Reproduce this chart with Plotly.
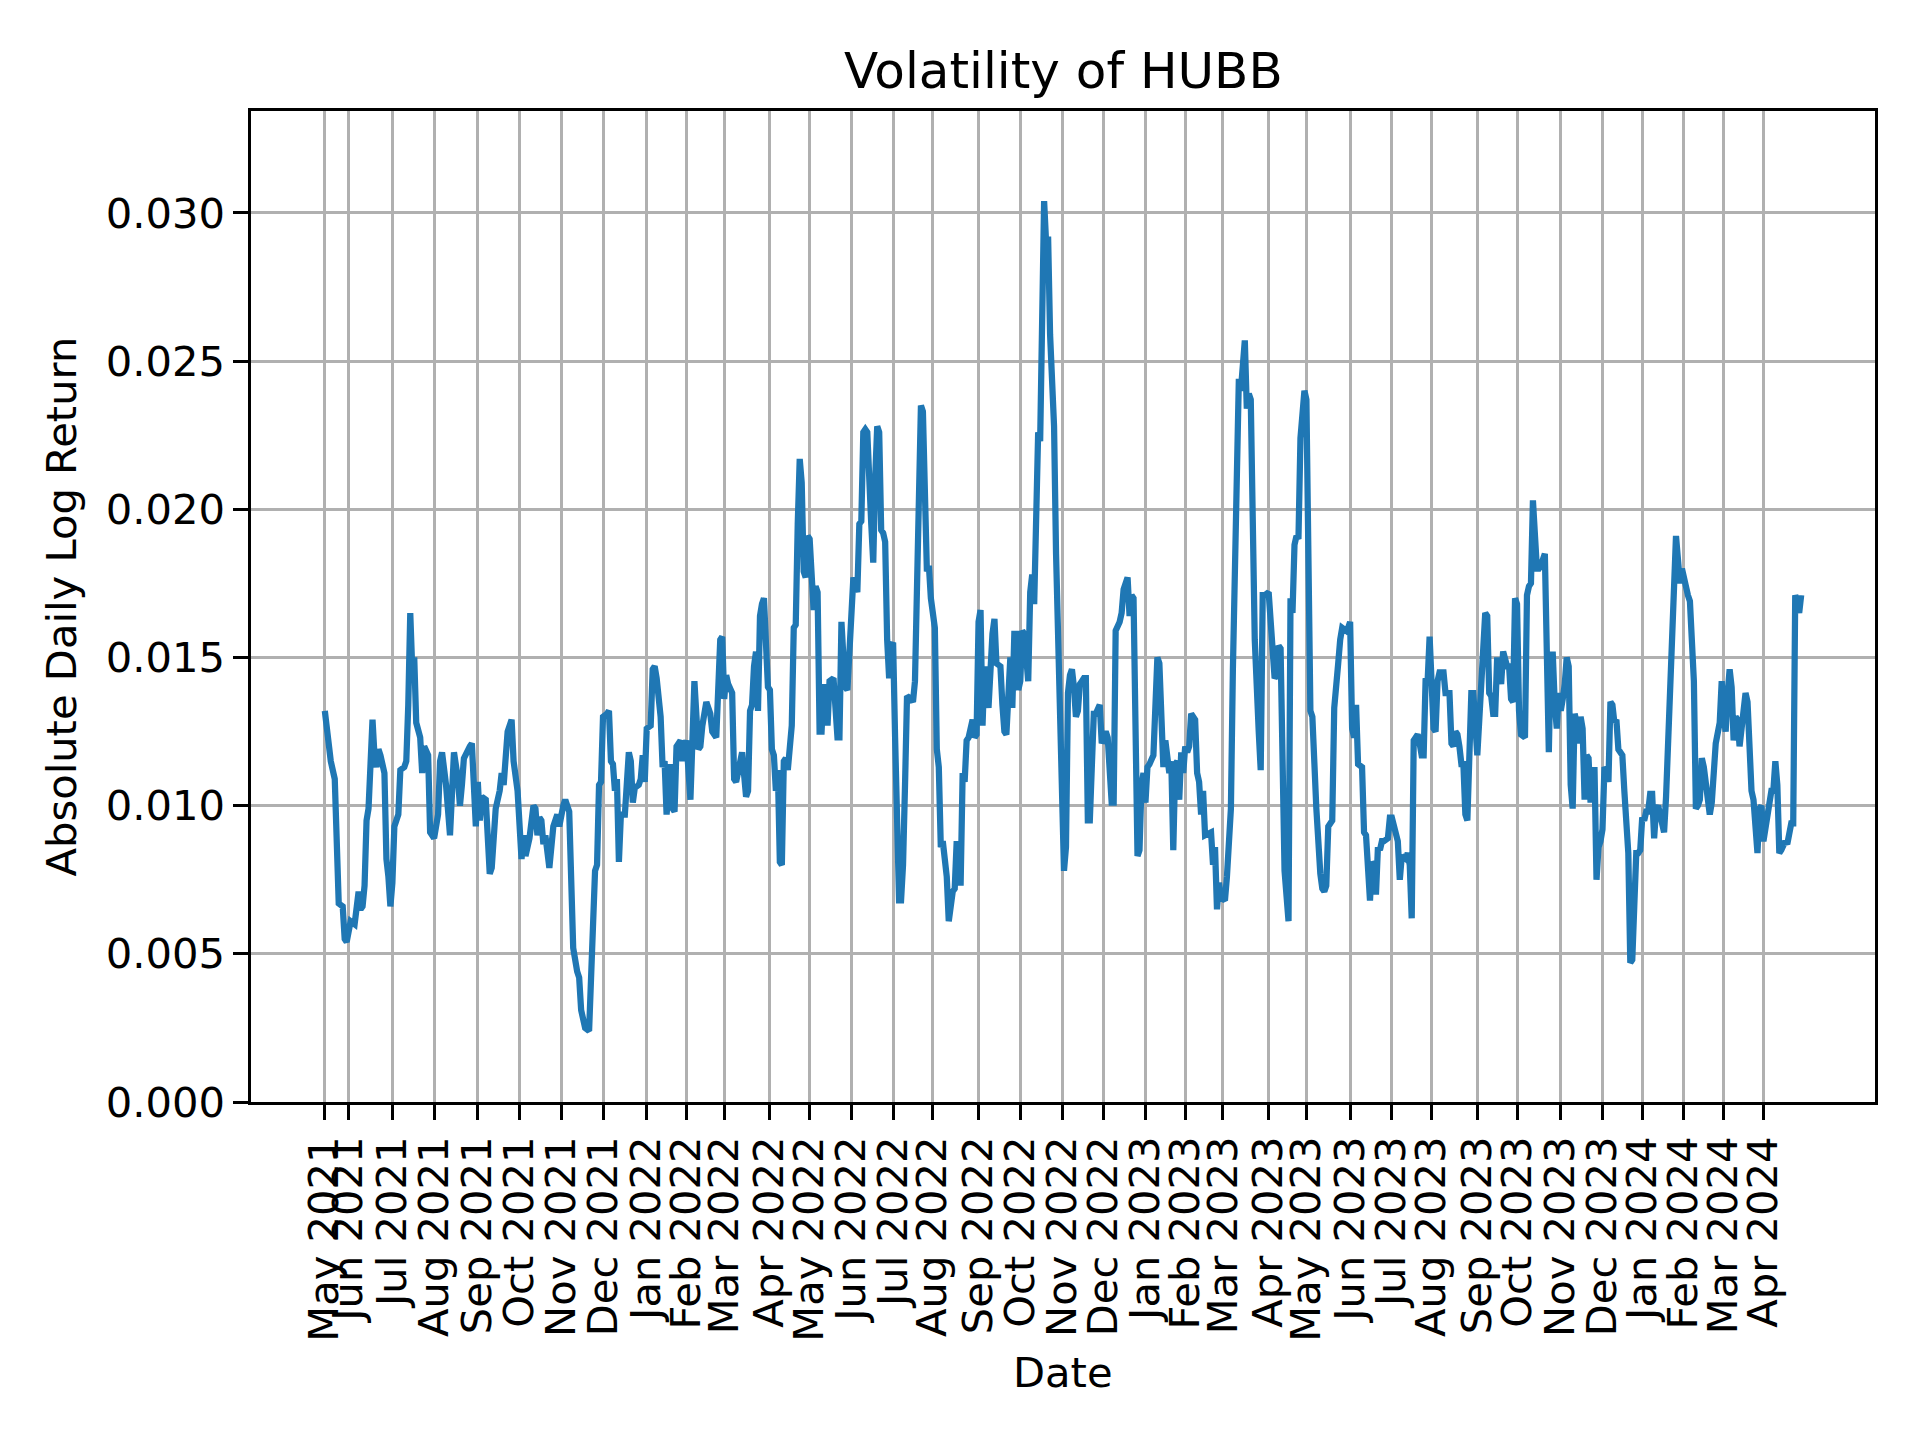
import plotly.graph_objects as go

# x = trading-session number counted from the first session shown (13 May 2021)
session = [
    0, 2, 3, 5, 6, 7, 9, 10, 11, 12, 13, 15, 16, 17, 18, 19, 20, 21, 22, 23, 24, 25, 26, 27, 28, 30,
    31, 32, 33, 34, 35, 37, 38, 40, 41, 42, 43, 44, 45, 46, 48, 49, 50, 52, 53, 54, 55, 57, 58, 59,
    61, 63, 64, 65, 67, 68, 69, 70,
    73, 74, 76, 77, 78, 79, 81, 82, 83, 84, 85, 86, 88, 89, 90, 91, 92, 94, 95, 97, 98, 99, 100, 101,
    103, 104, 105, 106, 107, 108, 109, 110, 111, 113, 114, 115, 117, 118, 120, 121, 123, 124, 125,
    127, 128, 129, 131, 133, 134, 135, 136, 137, 138, 139, 140, 142, 143, 144, 145, 146,
    147, 148, 149, 151, 152, 153, 154, 155, 156, 158, 159, 160, 161, 162, 164, 165, 166, 167, 169,
    170, 171, 172, 174, 175, 176, 177, 179, 180, 181, 182, 184, 185, 186, 188, 189, 190, 191, 192,
    194, 195, 197, 198, 199, 200, 201, 202, 203, 205, 206, 207, 209, 210, 212, 213, 214, 215, 216,
    217, 218, 219, 220, 221,
    223, 224, 225, 226, 227, 228, 229, 230, 231, 232, 233, 234, 235, 236, 237, 238, 239, 240, 241,
    242, 243, 244, 245, 246, 247, 248, 249, 250, 251, 252, 253, 254, 256, 257, 258, 259, 260, 261,
    262, 263, 264, 265, 266, 268, 269, 270, 271, 272, 273, 275, 276, 277, 278, 279, 280, 281, 282,
    283, 284, 285, 286, 287, 288, 289, 290, 291, 292, 293, 295,
    296, 297, 298, 299, 300, 301, 302, 303, 304, 305, 307, 308, 309, 310, 311, 313, 314, 316, 317,
    318, 319, 320, 321, 322, 323, 324, 326, 327, 328, 329, 330, 331, 332, 333, 334, 336, 337, 338,
    340, 341, 342, 343, 344, 345, 346, 347, 348, 349, 350, 351, 352, 353, 354, 355, 356, 357, 358,
    359, 360, 361, 362, 363, 364, 365, 367, 368, 369,
    370, 372, 373, 374, 375, 376, 377, 378, 379, 380, 381, 382, 383, 384, 385, 386, 387, 388, 389,
    390, 391, 393, 394, 395, 396, 397, 398, 400, 401, 402, 403, 404, 405, 406, 407, 408, 409, 410,
    411, 412, 413, 414, 415, 417, 418, 419, 420, 421, 422, 423, 424, 425, 426, 427, 428, 429, 430,
    431, 432, 433, 434, 435, 436, 438, 439, 440, 441, 442, 443,
    446, 447, 448, 449, 450, 451, 453, 454, 455, 456, 457, 459, 460, 461, 462, 463, 464, 465, 466,
    467, 468, 470, 471, 472, 473, 475, 476, 477, 478, 479, 480, 481, 482, 483, 485, 486, 487, 488,
    489, 490, 491, 492, 493, 494, 496, 497, 498, 499, 501, 502, 503, 504, 505, 507, 508, 509, 510,
    511, 512, 514, 515, 516, 517, 518,
    519, 520, 522, 523, 524, 526, 527, 528, 529, 530, 531, 532, 533, 535, 536, 537, 539, 540, 541,
    542, 544, 545, 546, 547, 548, 550, 551, 552, 553, 554, 555, 556, 558, 559, 560, 561, 563, 564,
    565, 566, 567, 568, 569, 570, 571, 572, 573, 574, 575, 576, 577, 578, 579, 580, 581, 582, 583,
    584, 585, 586, 587, 588, 589, 590, 592,
    593, 595, 596, 597, 598, 599, 600, 601, 602, 604, 605, 606, 607, 608, 609, 610, 611, 612, 614,
    615, 616, 617, 618, 619, 620, 621, 622, 623, 624, 625, 626, 627, 628, 629, 630, 631, 632, 633,
    634, 635, 636, 637, 638, 639, 640, 641, 642, 643, 644, 645, 646, 647, 648, 649, 650, 651, 652,
    653, 654, 655, 656, 657, 658, 659, 660, 661, 662, 663, 664, 665, 666, 667,
    668, 669, 670, 671, 673, 674, 675, 676, 677, 678, 679, 680, 681, 682, 683, 684, 685, 686, 687,
    688, 689, 690, 691, 692, 693, 694, 695, 696, 697, 698, 699, 700, 702, 703, 704, 705, 706, 707,
    708, 709, 710, 711, 712, 713, 714, 715, 716, 717, 718, 719, 720, 721, 722, 723, 724, 725, 726,
    727, 728, 729, 730, 731, 732, 733, 735, 736, 737, 738, 739, 740, 741, 742, 743,
]

abs_log_return = [
    0.0132, 0.0118, 0.0115, 0.0109, 0.0082, 0.0067, 0.0066, 0.0055, 0.0054, 0.0057, 0.0061, 0.0060, 0.0069, 0.0071, 0.0065, 0.0066, 0.0073, 0.0095, 0.0099, 0.0117, 0.0129, 0.0117, 0.0113, 0.0119, 0.0117, 0.0111,
    0.0082, 0.0076, 0.0066, 0.0074, 0.0093, 0.0097, 0.0112, 0.0113, 0.0115, 0.0134, 0.0165, 0.0146, 0.0150, 0.0128, 0.0123, 0.0111, 0.0120, 0.0117, 0.0091, 0.0090, 0.0089, 0.0097, 0.0115, 0.0118,
    0.0107, 0.0090, 0.0101, 0.0118, 0.0109, 0.0100, 0.0107, 0.0116,
    0.0120, 0.0121, 0.0093, 0.0108, 0.0095, 0.0103, 0.0102, 0.0088, 0.0077, 0.0079, 0.0093, 0.0099, 0.0105, 0.0111, 0.0107, 0.0115, 0.0125, 0.0129, 0.0115, 0.0105, 0.0095, 0.0082, 0.0090, 0.0083,
    0.0089, 0.0097, 0.0100, 0.0099, 0.0090, 0.0096, 0.0095, 0.0087, 0.0090, 0.0079, 0.0087, 0.0093, 0.0097, 0.0093, 0.0100, 0.0102, 0.0098, 0.0062, 0.0052,
    0.0044, 0.0042, 0.0031, 0.0025, 0.0024, 0.0045, 0.0050, 0.0078, 0.0080, 0.0107, 0.0108, 0.0130, 0.0131, 0.0132, 0.0115, 0.0114, 0.0105,
    0.0109, 0.0081, 0.0097, 0.0097, 0.0106, 0.0118, 0.0115, 0.0101, 0.0106, 0.0107, 0.0109, 0.0117, 0.0108, 0.0126, 0.0127, 0.0146, 0.0147, 0.0143, 0.0130,
    0.0113, 0.0115, 0.0097, 0.0114, 0.0099, 0.0098, 0.0120, 0.0122, 0.0115, 0.0120, 0.0122, 0.0102, 0.0117, 0.0142, 0.0119, 0.0120, 0.0127, 0.0131, 0.0135,
    0.0131, 0.0125, 0.0123, 0.0138, 0.0156, 0.0157, 0.0136, 0.0144, 0.0141, 0.0138, 0.0109, 0.0108, 0.0117, 0.0118, 0.0103, 0.0105, 0.0132, 0.0134, 0.0147,
    0.0152, 0.0132, 0.0164, 0.0168, 0.0170,
    0.0140, 0.0139, 0.0119, 0.0117, 0.0105, 0.0112, 0.0081, 0.0080, 0.0115, 0.0116, 0.0112, 0.0123, 0.0127, 0.0160, 0.0161, 0.0195, 0.0217, 0.0209, 0.0179,
    0.0177, 0.0191, 0.0190, 0.0177, 0.0166, 0.0174, 0.0172, 0.0125, 0.0125, 0.0140, 0.0140, 0.0127, 0.0142, 0.0143, 0.0134, 0.0123, 0.0123, 0.0162, 0.0150,
    0.0140, 0.0139, 0.0152, 0.0174, 0.0177, 0.0172, 0.0195, 0.0196, 0.0226, 0.0227, 0.0226, 0.0195, 0.0182, 0.0211, 0.0228, 0.0226, 0.0193, 0.0192, 0.0189,
    0.0156, 0.0143, 0.0154, 0.0155, 0.0123, 0.0099, 0.0068, 0.0068, 0.0080, 0.0107, 0.0137, 0.0136,
    0.0135, 0.0142, 0.0183, 0.0201, 0.0235, 0.0233, 0.0209, 0.0179, 0.0181, 0.0170, 0.0160, 0.0119, 0.0113, 0.0086, 0.0088, 0.0076, 0.0061, 0.0071, 0.0072,
    0.0088, 0.0074, 0.0074, 0.0111, 0.0108, 0.0122, 0.0123, 0.0129, 0.0123, 0.0124, 0.0162, 0.0166, 0.0127, 0.0147, 0.0139, 0.0133, 0.0158, 0.0163, 0.0148,
    0.0147, 0.0134, 0.0125, 0.0124, 0.0142, 0.0150, 0.0133, 0.0158, 0.0158, 0.0139, 0.0142, 0.0159, 0.0158, 0.0146, 0.0142, 0.0172, 0.0178, 0.0168, 0.0199,
    0.0226, 0.0223, 0.0263, 0.0304, 0.0290, 0.0292, 0.0259, 0.0228, 0.0185, 0.0158,
    0.0115, 0.0078, 0.0086, 0.0138, 0.0144, 0.0146, 0.0140, 0.0130, 0.0132, 0.0141, 0.0142, 0.0143, 0.0143, 0.0095, 0.0095, 0.0115, 0.0131, 0.0131, 0.0133,
    0.0134, 0.0121, 0.0125, 0.0123, 0.0105, 0.0101, 0.0101, 0.0159, 0.0162, 0.0165, 0.0173, 0.0176, 0.0177, 0.0164, 0.0171, 0.0170, 0.0130, 0.0083, 0.0085,
    0.0107, 0.0111, 0.0101, 0.0113, 0.0114, 0.0117, 0.0138, 0.0150, 0.0148, 0.0130, 0.0113, 0.0122, 0.0118, 0.0111, 0.0115, 0.0085, 0.0114, 0.0115, 0.0102,
    0.0118, 0.0111, 0.0120, 0.0118, 0.0120, 0.0131, 0.0129, 0.0111, 0.0108, 0.0097, 0.0105, 0.0090,
    0.0091, 0.0080, 0.0086, 0.0065, 0.0074, 0.0069, 0.0068, 0.0076, 0.0091, 0.0099, 0.0146, 0.0201, 0.0244, 0.0240, 0.0254, 0.0257, 0.0234, 0.0239, 0.0237,
    0.0203, 0.0156, 0.0125, 0.0112, 0.0171, 0.0171, 0.0172, 0.0160, 0.0156, 0.0143, 0.0144, 0.0154, 0.0153, 0.0115, 0.0078, 0.0061, 0.0170, 0.0165, 0.0188,
    0.0191, 0.0190, 0.0224, 0.0236, 0.0240, 0.0237, 0.0132, 0.0130, 0.0109, 0.0099, 0.0077, 0.0072, 0.0071, 0.0073, 0.0093, 0.0095, 0.0133, 0.0144, 0.0148,
    0.0156, 0.0160, 0.0159, 0.0160, 0.0162, 0.0126, 0.0123,
    0.0134, 0.0114, 0.0113, 0.0091, 0.0090, 0.0068, 0.0081, 0.0080, 0.0070, 0.0086, 0.0085, 0.0088, 0.0088, 0.0089, 0.0096, 0.0096, 0.0089, 0.0088, 0.0075,
    0.0083, 0.0082, 0.0084, 0.0080, 0.0062, 0.0122, 0.0124, 0.0121, 0.0117, 0.0117, 0.0143, 0.0142, 0.0157, 0.0126, 0.0125, 0.0142, 0.0145, 0.0145, 0.0138,
    0.0138, 0.0138, 0.0121, 0.0120, 0.0125, 0.0124, 0.0120, 0.0114, 0.0114, 0.0097, 0.0095, 0.0129, 0.0138, 0.0138, 0.0128, 0.0117, 0.0129, 0.0144, 0.0154,
    0.0165, 0.0164, 0.0138, 0.0137, 0.0131, 0.0131, 0.0150, 0.0141,
    0.0152, 0.0147, 0.0147, 0.0136, 0.0135, 0.0170, 0.0168, 0.0132, 0.0124, 0.0123, 0.0171, 0.0174, 0.0175, 0.0203, 0.0185, 0.0180, 0.0180, 0.0181, 0.0185,
    0.0134, 0.0118, 0.0151, 0.0151, 0.0134, 0.0126, 0.0138, 0.0132, 0.0136, 0.0141, 0.0150, 0.0147, 0.0107, 0.0099, 0.0131, 0.0128, 0.0121, 0.0130, 0.0126,
    0.0102, 0.0117, 0.0116, 0.0101, 0.0112, 0.0112, 0.0075, 0.0086, 0.0088, 0.0092, 0.0113, 0.0112, 0.0108, 0.0135, 0.0134, 0.0128, 0.0129, 0.0119, 0.0118,
    0.0117, 0.0105, 0.0093, 0.0084, 0.0047, 0.0048, 0.0066, 0.0084, 0.0084, 0.0085, 0.0096, 0.0095, 0.0098, 0.0098, 0.0104,
    0.0104, 0.0089, 0.0099, 0.0100, 0.0094, 0.0091, 0.0103, 0.0120, 0.0150, 0.0165, 0.0175, 0.0191, 0.0183, 0.0175, 0.0180, 0.0176, 0.0173, 0.0171, 0.0169,
    0.0150, 0.0142, 0.0099, 0.0100, 0.0102, 0.0116, 0.0113, 0.0107, 0.0101, 0.0097, 0.0101, 0.0114, 0.0121, 0.0128, 0.0142, 0.0130, 0.0125, 0.0138, 0.0146,
    0.0140, 0.0122, 0.0130, 0.0129, 0.0120, 0.0125, 0.0131, 0.0138, 0.0135, 0.0113, 0.0105, 0.0102, 0.0089, 0.0084, 0.0099, 0.0100, 0.0088, 0.0092, 0.0097,
    0.0098, 0.0105, 0.0105, 0.0115, 0.0107, 0.0084, 0.0085, 0.0088, 0.0087, 0.0092, 0.0094, 0.0094, 0.0171, 0.0169, 0.0165, 0.0171,
]

# session number of the first trading day of each month, and its label
tick_session = [0, 12, 34, 55, 77, 98, 119, 140, 162, 182, 201, 224, 244, 265, 286, 306, 329, 350,
                371, 392, 413, 433, 452, 475, 494, 516, 537, 557, 580, 600, 622, 643, 663, 684, 704, 724]
tick_labels = ["May 2021", "Jun 2021", "Jul 2021", "Aug 2021", "Sep 2021", "Oct 2021", "Nov 2021",
               "Dec 2021", "Jan 2022", "Feb 2022", "Mar 2022", "Apr 2022", "May 2022", "Jun 2022",
               "Jul 2022", "Aug 2022", "Sep 2022", "Oct 2022", "Nov 2022", "Dec 2022", "Jan 2023",
               "Feb 2023", "Mar 2023", "Apr 2023", "May 2023", "Jun 2023", "Jul 2023", "Aug 2023",
               "Sep 2023", "Oct 2023", "Nov 2023", "Dec 2023", "Jan 2024", "Feb 2024", "Mar 2024",
               "Apr 2024"]
y_ticks = [0.000, 0.005, 0.010, 0.015, 0.020, 0.025, 0.030]

FONT = "DejaVu Sans"
PT = 300 / 72.0
span = session[-1] - session[0]
x_range = [session[0] - 0.05 * span, session[-1] + 0.05 * span]
y_range = [0, 1.1 * max(abs_log_return)]

fig = go.Figure()
fig.add_trace(go.Scatter(x=session, y=abs_log_return, mode="lines",
                         line=dict(color="#1f77b4", width=1.5 * PT), showlegend=False))

axis_common = dict(showline=True, mirror=True, linecolor="black", linewidth=0.8 * PT,
                   ticks="outside", ticklen=3.5 * PT, tickwidth=0.8 * PT, tickcolor="black",
                   showgrid=True, gridcolor="#b0b0b0", gridwidth=0.8 * PT, zeroline=False,
                   tickfont=dict(family=FONT, size=10 * PT, color="black"))

fig.update_xaxes(range=x_range, tickmode="array", tickvals=tick_session, ticktext=tick_labels,
                 tickangle=-90, **axis_common)
fig.update_yaxes(range=y_range, tickmode="array", tickvals=y_ticks,
                 ticktext=[f"{v:.3f}" for v in y_ticks], **axis_common)

fig.add_annotation(text="Volatility of HUBB", xref="paper", yref="paper", x=0.5, y=1,
                   xanchor="center", yanchor="middle", yshift=40, showarrow=False,
                   font=dict(family=FONT, size=12 * PT, color="black"))
fig.add_annotation(text="Date", xref="paper", yref="paper", x=0.5, y=0,
                   xanchor="center", yanchor="middle", yshift=-270, showarrow=False,
                   font=dict(family=FONT, size=10 * PT, color="black"))
fig.add_annotation(text="Absolute Daily Log Return", xref="paper", yref="paper", x=0, y=0.5,
                   xanchor="center", yanchor="middle", xshift=-190, textangle=-90, showarrow=False,
                   font=dict(family=FONT, size=10 * PT, color="black"))

# the page body adds an 8 px margin, so the figure is 8 px smaller and shifted accordingly
fig.update_layout(width=1912, height=1432, paper_bgcolor="white", plot_bgcolor="white",
                  margin=dict(l=243, r=45, t=103, b=338, autoexpand=False),
                  font=dict(family=FONT, color="black"))

fig.write_html("out.html")
